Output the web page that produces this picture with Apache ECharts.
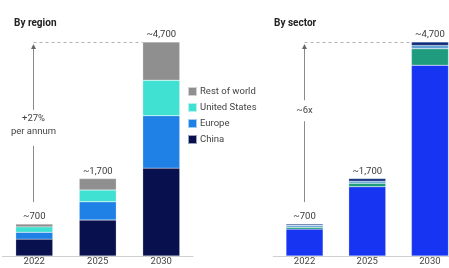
<!DOCTYPE html>
<html><head><meta charset="utf-8">
<script src="https://cdn.jsdelivr.net/npm/echarts@6/dist/echarts.min.js"></script>
<style>html,body{margin:0;padding:0;background:#fff;overflow:hidden}#c{width:480px;height:268px}</style>
</head><body><div id="c"></div>
<script>
const years = ['2022', '2025', '2030'];
const totalLabels = ['~700', '~1,700', '~4,700'];
const totals = [700, 1700, 4700];
// By region
const china = [370, 790, 1930];
const europe = [150, 400, 1150];
const unitedStates = [120, 260, 780];
const restOfWorld = [60, 250, 840];
// By sector
const sectorA = [590, 1520, 4190];
const sectorB = [40, 75, 360];
const sectorC = [45, 50, 75];
const sectorD = [25, 55, 75];

const FONT = 'Roboto, "Liberation Sans", sans-serif';
const chart = echarts.init(document.getElementById('c'), null, {renderer: 'canvas'});

function seg(name, data, color, stack, xi, top) {
  const s = {
    name, type: 'bar', stack, data, xAxisIndex: xi, yAxisIndex: xi,
    barWidth: 37, itemStyle: {color, borderColor: 'rgba(255,255,255,0.6)', borderWidth: 0.4},
    emphasis: {disabled: true}, animation: false
  };
  if (top) s.label = {show: true, position: 'top', distance: 2, color: '#3a3a3a', fontSize: 9.5, fontFamily: FONT,
    formatter: p => totalLabels[p.dataIndex]};
  return s;
}

const xAxisBase = {
  type: 'category', data: years, axisTick: {show: false},
  axisLine: {lineStyle: {color: '#cfcfcf', width: 1}},
  axisLabel: {color: '#444', fontSize: 9.5, fontFamily: FONT, margin: 1}
};
const yAxisBase = {type: 'value', min: 0, max: 5000, show: false, splitLine: {show: false}};

chart.setOption({
  backgroundColor: '#fff',
  textStyle: {fontFamily: FONT},
  title: [
    {text: 'By region', left: 9, top: 13, textStyle: {fontSize: 10, fontWeight: 'bold', color: '#222', fontFamily: FONT}},
    {text: 'By sector', left: 269, top: 13, textStyle: {fontSize: 10, fontWeight: 'bold', color: '#222', fontFamily: FONT}}
  ],
  legend: {
    orient: 'vertical', left: 187, top: 86, padding: 0, itemWidth: 9, itemHeight: 9, itemGap: 5,
    icon: 'rect', data: ['Rest of world', 'United States', 'Europe', 'China'],
    textStyle: {color: '#444', fontSize: 9.5, fontFamily: FONT, padding: [0, 0, 0, -2]},
    selectedMode: false
  },
  grid: [
    {left: 2.5, width: 190.5, top: 28.3, bottom: 12},
    {left: 273.2, width: 188.1, top: 28.3, bottom: 12}
  ],
  xAxis: [Object.assign({gridIndex: 0}, xAxisBase), Object.assign({gridIndex: 1}, xAxisBase)],
  yAxis: [Object.assign({gridIndex: 0}, yAxisBase), Object.assign({gridIndex: 1}, yAxisBase)],
  series: [
    seg('China', china, '#08114e', 'r', 0),
    seg('Europe', europe, '#1f80e6', 'r', 0),
    seg('United States', unitedStates, '#40e0d2', 'r', 0),
    seg('Rest of world', restOfWorld, '#8f8f8f', 'r', 0, true),
    seg('Mobility', sectorA, '#1634f2', 's', 1),
    seg('Stationary storage', sectorB, '#1f9c7e', 's', 1),
    seg('Consumer electronics', sectorC, '#65a3d6', 's', 1),
    seg('Other', sectorD, '#0c2a7a', 's', 1, true)
  ]
});

function annot(gi, text, textVal, gapTop, gapBot) {
  const top = chart.convertToPixel({gridIndex: gi}, [years[0], totals[2]]);
  const first = chart.convertToPixel({gridIndex: gi}, [years[0], totals[0]]);
  const last = chart.convertToPixel({gridIndex: gi}, [years[2], totals[2]]);
  const tp = chart.convertToPixel({gridIndex: gi}, [years[0], textVal]);
  const x = Math.round(top[0]) - 0.5;
  const y0 = top[1];
  const lineColor = '#8a8a8a';
  return [
    {type: 'line', shape: {x1: x, y1: y0 + 0.5, x2: last[0] - 18.5, y2: y0 + 0.5},
      style: {stroke: '#b0b0b0', lineWidth: 1, lineDash: [3, 3]}, silent: true},
    {type: 'line', shape: {x1: x, y1: y0 + 4, x2: x, y2: tp[1] - gapTop}, style: {stroke: lineColor, lineWidth: 1}, silent: true},
    {type: 'line', shape: {x1: x, y1: tp[1] + gapBot, x2: x, y2: first[1] - 22}, style: {stroke: lineColor, lineWidth: 1}, silent: true},
    {type: 'polygon', shape: {points: [[x, y0 + 2], [x - 2.5, y0 + 7], [x + 2.5, y0 + 7]]}, style: {fill: '#666'}, silent: true},
    {type: 'text', x: x, y: tp[1], style: {text, fill: '#444', fontSize: 9.5, fontFamily: FONT,
      align: 'center', verticalAlign: 'middle', lineHeight: 13}, silent: true}
  ];
}
chart.setOption({graphic: annot(0, '+27%\nper annum', 2880, 15, 21).concat(annot(1, '~6x', 3200, 10, 11))});
</script></body></html>
